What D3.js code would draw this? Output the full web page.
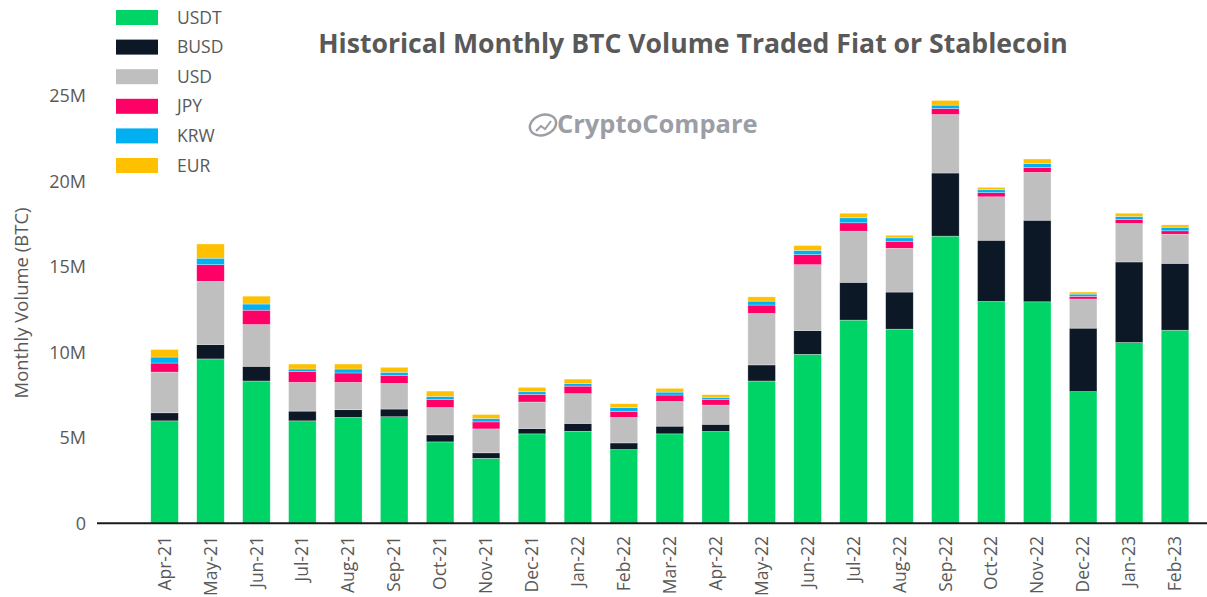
<!DOCTYPE html>
<html lang="en">
<head>
<meta charset="UTF-8">
<script src="https://d3js.org/d3.v7.min.js"></script>
<title>Historical Monthly BTC Volume Traded Fiat or Stablecoin</title>
<style>
  body { margin: 0; background: #fff; }
  text { font-family: "Open Sans", "DejaVu Sans", sans-serif; }
</style>
</head>
<body>
<div id="chart"></div>
<script>
// months along the x axis
var months = ["Apr-21","May-21","Jun-21","Jul-21","Aug-21","Sep-21","Oct-21","Nov-21","Dec-21",
              "Jan-22","Feb-22","Mar-22","Apr-22","May-22","Jun-22","Jul-22","Aug-22","Sep-22",
              "Oct-22","Nov-22","Dec-22","Jan-23","Feb-23"];

// monthly volume per pair, in millions of BTC
var usdt = [5.99, 9.61, 8.32, 5.99, 6.19, 6.23, 4.76, 3.80, 5.23, 5.38, 4.31, 5.23, 5.37,
            8.32, 9.88, 11.88, 11.35, 16.79, 12.97, 12.95, 7.70, 10.57, 11.29];
var busd = [0.47, 0.84, 0.86, 0.57, 0.45, 0.45, 0.41, 0.32, 0.31, 0.46, 0.39, 0.45, 0.42,
            0.94, 1.39, 2.21, 2.17, 3.69, 3.58, 4.77, 3.71, 4.71, 3.91];
var usd  = [2.38, 3.70, 2.44, 1.68, 1.60, 1.50, 1.60, 1.40, 1.55, 1.74, 1.49, 1.45, 1.12,
            3.01, 3.85, 2.99, 2.56, 3.42, 2.54, 2.80, 1.70, 2.25, 1.70];
var jpy  = [0.53, 0.97, 0.84, 0.63, 0.55, 0.45, 0.46, 0.41, 0.45, 0.44, 0.35, 0.37, 0.32,
            0.49, 0.59, 0.49, 0.41, 0.35, 0.24, 0.29, 0.16, 0.23, 0.20];
var krw  = [0.35, 0.38, 0.36, 0.15, 0.23, 0.20, 0.19, 0.20, 0.15, 0.16, 0.22, 0.17, 0.13,
            0.23, 0.25, 0.29, 0.20, 0.20, 0.17, 0.22, 0.13, 0.18, 0.21];
var eur  = [0.44, 0.83, 0.46, 0.29, 0.29, 0.29, 0.31, 0.23, 0.26, 0.25, 0.23, 0.22, 0.16,
            0.25, 0.28, 0.27, 0.15, 0.27, 0.14, 0.27, 0.12, 0.19, 0.14];

var keys = ["USDT", "BUSD", "USD", "JPY", "KRW", "EUR"];
var colors = ["#00d467", "#0c1826", "#bfbfbf", "#ff0066", "#00b0f0", "#ffc000"];
var yTicks = [0, 5, 10, 15, 20, 25];

var W = 1207, H = 597;
var textColor = "#595959";

// table for d3.stack
var series = [usdt, busd, usd, jpy, krw, eur];
var table = months.map(function (m, i) {
    var row = { month: m };
    keys.forEach(function (k, j) { row[k] = series[j][i]; });
    return row;
});

var svg = d3.select("#chart").append("svg")
    .attr("width", W)
    .attr("height", H);

var x = d3.scaleBand()
    .domain(months)
    .range([137, 1202.6])
    .paddingInner(0.4)
    .paddingOuter(0.3);

var y = d3.scaleLinear()
    .domain([0, 25])
    .range([523.3, 95.7]);

var color = d3.scaleOrdinal().domain(keys).range(colors);

var stacked = d3.stack().keys(keys)(table);

// bars
svg.append("g")
    .selectAll("g")
    .data(stacked)
    .enter().append("g")
    .attr("fill", function (d) { return color(d.key); })
    .selectAll("rect")
    .data(function (d) { return d; })
    .enter().append("rect")
    .attr("x", function (d) { return x(d.data.month); })
    .attr("y", function (d) { return y(d[1]); })
    .attr("width", x.bandwidth())
    .attr("height", function (d) { return y(d[0]) - y(d[1]); })
    .attr("stroke", "#ffffff")
    .attr("stroke-opacity", 0.5)
    .attr("stroke-width", 0.6);

// baseline
svg.append("line")
    .attr("x1", 97).attr("x2", W)
    .attr("y1", y(0)).attr("y2", y(0))
    .attr("stroke", "#1a1a1a")
    .attr("stroke-width", 2);

// y tick labels
svg.append("g")
    .selectAll("text")
    .data(yTicks)
    .enter().append("text")
    .attr("x", 86)
    .attr("y", function (d) { return y(d); })
    .attr("dy", "0.35em")
    .attr("text-anchor", "end")
    .style("font-size", "18px")
    .style("fill", textColor)
    .text(function (d) { return d === 0 ? "0" : d + "M"; });

// y axis title
svg.append("text")
    .attr("transform", "translate(22,303) rotate(-90)")
    .attr("dy", "0.35em")
    .attr("text-anchor", "middle")
    .style("font-size", "18.5px")
    .style("fill", textColor)
    .text("Monthly Volume (BTC)");

// x labels, rotated
svg.append("g")
    .selectAll("text")
    .data(months)
    .enter().append("text")
    .attr("transform", function (d) {
        return "translate(" + (x(d) + x.bandwidth() / 2) + ",536) rotate(-90)";
    })
    .attr("dy", "0.35em")
    .attr("text-anchor", "end")
    .style("font-size", "17.5px")
    .style("fill", textColor)
    .text(function (d) { return d; });

// title, sized to the width seen in the reference
var title = svg.append("text")
    .attr("x", 693)
    .attr("y", 53)
    .attr("text-anchor", "middle")
    .style("font-size", "25px")
    .style("font-weight", "bold")
    .style("fill", textColor)
    .text("Historical Monthly BTC Volume Traded Fiat or Stablecoin");
var tw = title.node().getComputedTextLength();
title.style("font-size", (25 * 750 / tw).toFixed(2) + "px");

// watermark
var wm = svg.append("g").attr("opacity", 0.85);
wm.append("ellipse")
    .attr("cx", 543).attr("cy", 125)
    .attr("rx", 13.5).attr("ry", 10)
    .attr("fill", "none")
    .attr("stroke", "#8a8f96")
    .attr("stroke-width", 2.4)
    .attr("transform", "rotate(-20,543,125)");
wm.append("path")
    .attr("d", "M536,131 L541,126 L545,129 L551,121")
    .attr("fill", "none")
    .attr("stroke", "#8a8f96")
    .attr("stroke-width", 2);
wm.append("text")
    .attr("x", 557)
    .attr("y", 124)
    .attr("dy", "0.35em")
    .style("font-size", "25.5px")
    .style("font-weight", "bold")
    .style("fill", "#8a8f96")
    .text("CryptoCompare");

// legend
var legend = svg.append("g")
    .selectAll("g")
    .data(keys)
    .enter().append("g")
    .attr("transform", function (d, i) { return "translate(116," + (10 + i * 29.6) + ")"; });
legend.append("rect")
    .attr("width", 42)
    .attr("height", 15)
    .attr("fill", function (d) { return color(d); });
legend.append("text")
    .attr("x", 61)
    .attr("y", 7.5)
    .attr("dy", "0.35em")
    .style("font-size", "17.5px")
    .style("fill", textColor)
    .text(function (d) { return d; });
</script>
</body>
</html>
